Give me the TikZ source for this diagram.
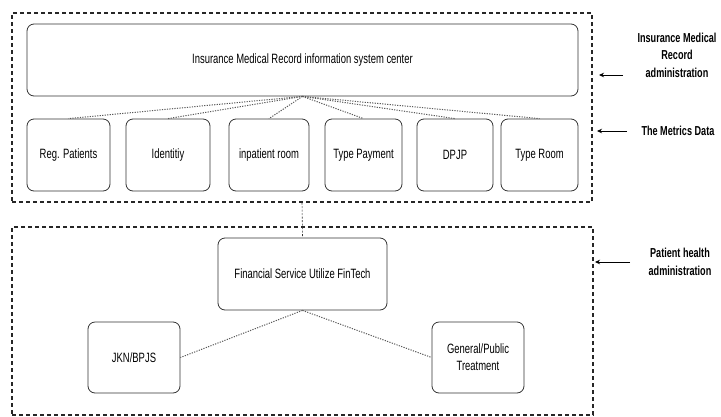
\documentclass[tikz,border=0pt]{standalone}
\usepackage{fontspec}
\setmainfont{Liberation Sans}[FakeStretch=0.7]
\usetikzlibrary{arrows.meta}

\begin{document}
\begin{tikzpicture}[x=1pt,y=-1pt,
  box/.style={draw=black!80,rounded corners=7pt,line width=0.8pt,align=center,inner sep=0pt,
    font=\fontsize{13.5}{17}\selectfont},
  group/.style={draw=black!85,line width=1.4pt,dash pattern=on 4pt off 3pt,inner sep=0pt},
  link/.style={draw=black!65,line width=1pt,dash pattern=on 1.2pt off 1.3pt},
  note/.style={align=center,font=\bfseries\fontsize{13}{17.5}\selectfont},
  arr/.style={-{Stealth[length=5pt,width=4.5pt]},line width=0.8pt}]

\useasboundingbox (0,0) rectangle (721,416);

% groups
\node[group,minimum width=580pt,minimum height=189pt] (top) at (302,107.5) {};
\node[group,minimum width=581pt,minimum height=188pt] (bottom) at (302.5,321) {};

% upper part
\node[box,minimum width=551pt,minimum height=72pt] (center) at (302.5,60) {Insurance Medical Record information system center};
\node[box,minimum width=83pt,minimum height=72pt] (reg) at (68.5,155) {Reg. Patients};
\node[box,minimum width=84pt,minimum height=72pt] (ident) at (168,155) {Identitiy};
\node[box,minimum width=80pt,minimum height=72pt] (room) at (269,155) {inpatient room};
\node[box,minimum width=77pt,minimum height=72pt] (pay) at (363.5,155) {Type Payment};
\node[box,minimum width=76pt,minimum height=72pt] (dpjp) at (455,155) {DPJP};
\node[box,minimum width=77pt,minimum height=72pt] (troom) at (539.5,155) {Type Room};

% lower part
\node[box,minimum width=169pt,minimum height=72pt] (fin) at (302.5,274) {Financial Service Utilize FinTech};
\node[box,minimum width=92pt,minimum height=71pt] (jkn) at (134,357.5) {JKN/BPJS};
\node[box,minimum width=92pt,minimum height=71pt] (gen) at (478,357.5) {General/Public\\Treatment};

\draw[link] (center.south) -- (reg.north);
\draw[link] (center.south) -- (ident.north);
\draw[link] (center.south) -- (room.north);
\draw[link] (center.south) -- (pay.north);
\draw[link] (center.south) -- (dpjp.north);
\draw[link] (center.south) -- (troom.north);
\draw[black!80,line width=0.6pt,dash pattern=on 2pt off 1.5pt] (top.south) -- (fin.north);
\draw[link] (fin.south) -- (jkn.east);
\draw[link] (fin.south) -- (gen.west);

% notes on the right
\node[note] (n1) at (677,55) {Insurance Medical\\Record\\administration};
\node[note,anchor=west] (n2) at (638,131) {The Metrics Data};
\node[note] (n3) at (680,262) {Patient health\\administration};

\coordinate (t1) at (623,75);
\coordinate (h1) at (599,75);
\coordinate (t2) at (627,131);
\coordinate (h2) at (597,131);
\coordinate (t3) at (630,262);
\coordinate (h3) at (595,262);
\draw[arr] (t1) -- (h1);
\draw[arr] (t2) -- (h2);
\draw[arr] (t3) -- (h3);
\end{tikzpicture}
\end{document}
